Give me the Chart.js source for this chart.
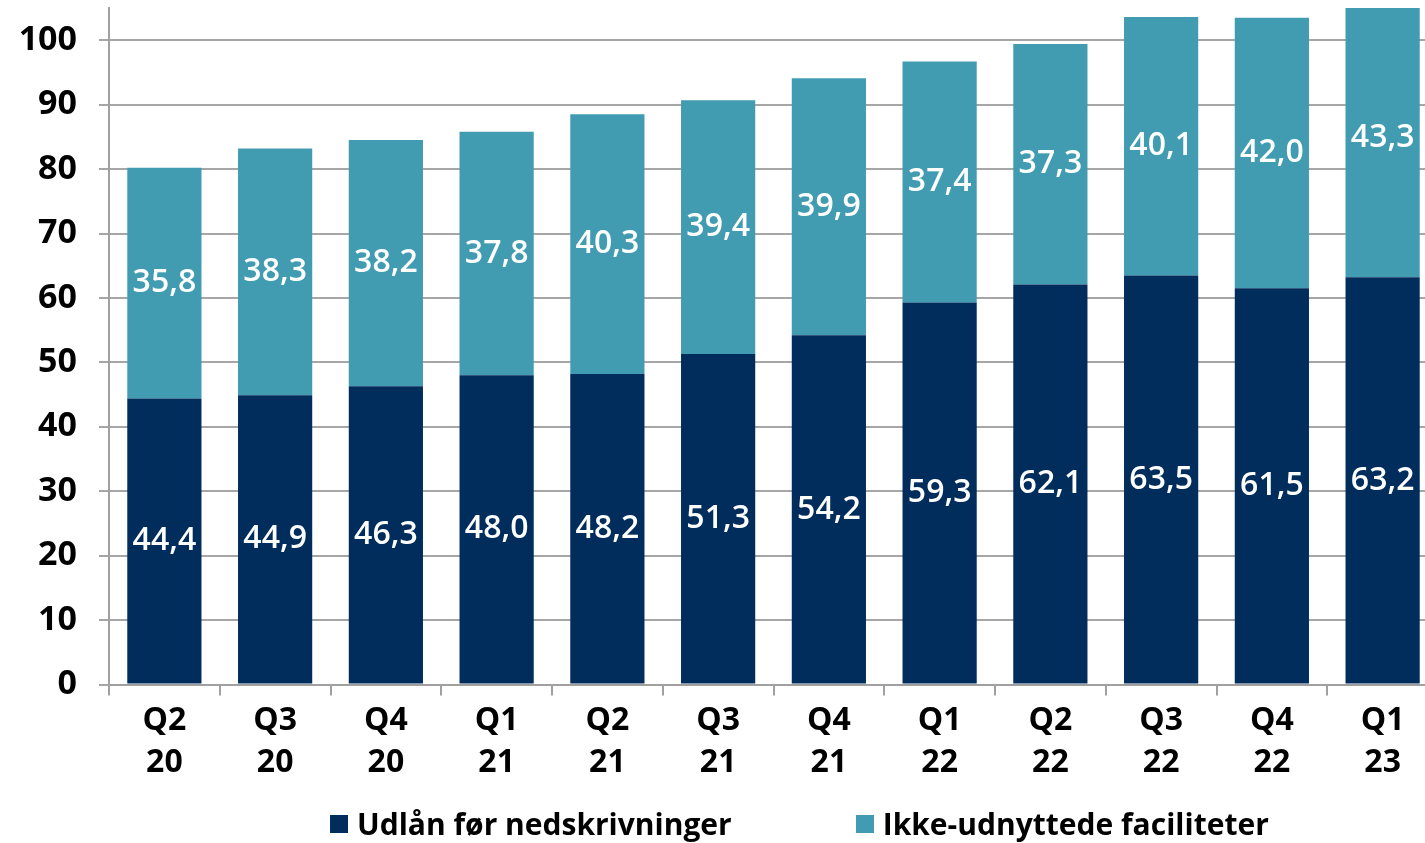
<!DOCTYPE html>
<html>
<head>
<meta charset="utf-8">
<script src="https://cdn.jsdelivr.net/npm/chart.js@4.4.0/dist/chart.umd.min.js"></script>
<style>
  html, body { margin: 0; padding: 0; background: #fff; overflow: hidden; }
  #wrap { position: relative; width: 1440px; height: 843px; }
  #legend { position: absolute; left: 330px; top: 803px; display: flex; gap: 124px;
            font-family: "Open Sans", sans-serif; font-weight: 700; font-size: 30px; color: #000; }
  #legend .item { display: flex; align-items: center; }
  #legend .box { width: 18px; height: 18px; margin-right: 9px; }
</style>
</head>
<body>
<div id="wrap">
  <canvas id="chart" width="1440" height="843"></canvas>
  <div id="legend"></div>
</div>
<script>
// Kvartaler
const quarters = [['Q2','20'],['Q3','20'],['Q4','20'],['Q1','21'],['Q2','21'],['Q3','21'],
                  ['Q4','21'],['Q1','22'],['Q2','22'],['Q3','22'],['Q4','22'],['Q1','23']];
// Udlån før nedskrivninger
const udlaan = [44.4, 44.9, 46.3, 48.0, 48.2, 51.3, 54.2, 59.3, 62.1, 63.5, 61.5, 63.2];
// Ikke-udnyttede faciliteter
const faciliteter = [35.8, 38.3, 38.2, 37.8, 40.3, 39.4, 39.9, 37.4, 37.3, 40.1, 42.0, 43.3];
const seriesNames = ['Udlån før nedskrivninger', 'Ikke-udnyttede faciliteter'];
const seriesColors = ['#002D5C', '#419CB2'];
const yTicks = [0, 10, 20, 30, 40, 50, 60, 70, 80, 90, 100];

const FONT = '"Open Sans", sans-serif';

// Etiketter midt i hver stak
const valueLabels = {
    id: 'valueLabels',
    afterDatasetsDraw(chart) {
        const ctx = chart.ctx;
        ctx.save();
        ctx.fillStyle = '#ffffff';
        ctx.font = '600 32px ' + FONT;
        ctx.textAlign = 'center';
        ctx.textBaseline = 'middle';
        chart.data.datasets.forEach((ds, i) => {
            chart.getDatasetMeta(i).data.forEach((bar, j) => {
                const txt = ds.data[j].toFixed(1).replace('.', ',');
                ctx.fillText(txt, bar.x, (bar.y + bar.base) / 2);
            });
        });
        ctx.restore();
    }
};

const chart = new Chart(document.getElementById('chart'), {
    type: 'bar',
    data: {
        labels: quarters,
        datasets: [
            { label: seriesNames[0], data: udlaan, backgroundColor: seriesColors[0] },
            { label: seriesNames[1], data: faciliteter, backgroundColor: seriesColors[1] }
        ]
    },
    options: {
        responsive: false,
        animation: false,
        layout: { padding: { top: 8, bottom: 55, left: 0, right: 2 } },
        datasets: { bar: { categoryPercentage: 1, barPercentage: 0.67 } },
        plugins: { legend: { display: false }, tooltip: { enabled: false } },
        scales: {
            x: {
                stacked: true,
                afterFit(scale) { scale.paddingLeft = 0; scale.paddingRight = 0; },
                grid: { drawOnChartArea: false, color: '#a0a0a0', lineWidth: 2, tickLength: 11, offset: true },
                border: { color: '#a0a0a0', width: 2 },
                ticks: { color: '#000', font: { family: FONT, size: 32, weight: '700', lineHeight: 1.32 }, padding: 4, maxRotation: 0 }
            },
            y: {
                stacked: true,
                min: 0,
                max: 105,
                afterBuildTicks(scale) {
                    scale.ticks = yTicks.map(v => ({ value: v }));
                },
                afterFit(scale) { scale.width = 109; scale.paddingTop = 0; scale.paddingBottom = 0; },
                grid: { color: '#a6a6a6', lineWidth: 2, tickLength: 10 },
                border: { color: '#a0a0a0', width: 2 },
                ticks: { color: '#000', font: { family: FONT, size: 34, weight: '700' }, padding: 22 }
            }
        }
    },
    plugins: [valueLabels]
});

// HTML-forklaring
const legend = document.getElementById('legend');
chart.data.datasets.forEach(ds => {
    const item = document.createElement('div');
    item.className = 'item';
    const box = document.createElement('span');
    box.className = 'box';
    box.style.background = ds.backgroundColor;
    const txt = document.createElement('span');
    txt.textContent = ds.label;
    item.appendChild(box);
    item.appendChild(txt);
    legend.appendChild(item);
});
</script>
</body>
</html>
